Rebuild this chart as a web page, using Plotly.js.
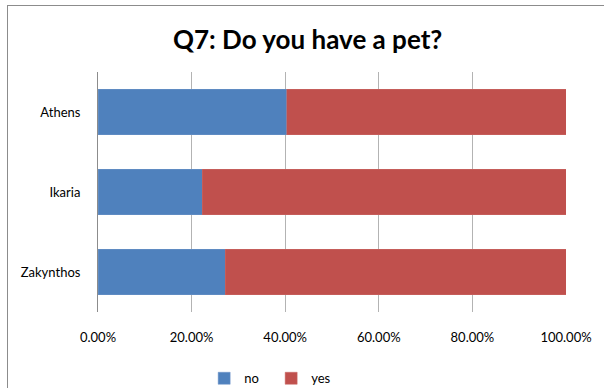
<!DOCTYPE html>
<html><head><meta charset="utf-8">
<script src="https://cdn.plot.ly/plotly-3.0.1.min.js"></script>
<style>
html,body{margin:0;padding:0;background:#fff;}
#chart{width:604px;height:388px;position:absolute;left:0;top:0;}
#frame{position:absolute;left:7px;top:5px;width:700px;height:500px;border-left:1px solid #8c8c8c;border-top:1px solid #8c8c8c;pointer-events:none;}
</style></head>
<body>
<div id="chart"></div>
<div id="frame"></div>
<script>
const categories = ["Athens", "Ikaria", "Zakynthos"];
const noValues = [0.403, 0.223, 0.272];
const yesValues = [0.597, 0.777, 0.728];
const tickValues = [0, 0.2, 0.4, 0.6, 0.8, 1.0];
const tickLabels = ["0.00%", "20.00%", "40.00%", "60.00%", "80.00%", "100.00%"];

const font = "Lato, 'Open Sans', sans-serif";
const traces = [
  {type:"bar", orientation:"h", name:"no", y:categories, x:noValues,
   marker:{color:"#4F81BD", line:{color:"#6f95c8", width:0.5}}},
  {type:"bar", orientation:"h", name:"yes", y:categories, x:yesValues,
   marker:{color:"#C0504D", line:{color:"#c96a67", width:0.5}}}
];
const layout = {
  width:604, height:388,
  barmode:"stack", bargap:0.43,
  margin:{l:98, r:38, t:72, b:76, autoexpand:false},
  paper_bgcolor:"#fff", plot_bgcolor:"#fff",
  font:{family:font, size:13, color:"#000"},
  title:{text:"<b>Q7: Do you have a pet?</b>", font:{family:font, size:26, color:"#000"},
         x:0.448, xref:"paper", xanchor:"center", y:0.897, yref:"container", yanchor:"middle"},
  xaxis:{range:[0,1], tickvals:tickValues, ticktext:tickLabels, showgrid:true,
         gridcolor:"#b3b3b3", gridwidth:1, zeroline:false, showline:false,
         ticks:"", ticklabelstandoff:16, tickfont:{size:13}},
  yaxis:{autorange:"reversed", showgrid:false, zeroline:false, showline:true,
         linecolor:"#8c8c8c", linewidth:1, ticks:"", ticklabelstandoff:14, tickfont:{size:13}},
  showlegend:true,
  legend:{orientation:"h", x:0.37, xanchor:"center", y:0.025, yref:"container", yanchor:"middle",
          font:{size:13}, itemwidth:30, entrywidth:22, entrywidthmode:"pixels", traceorder:"normal"}
};
Plotly.newPlot("chart", traces, layout, {displayModeBar:false, staticPlot:true});
</script>
</body></html>
